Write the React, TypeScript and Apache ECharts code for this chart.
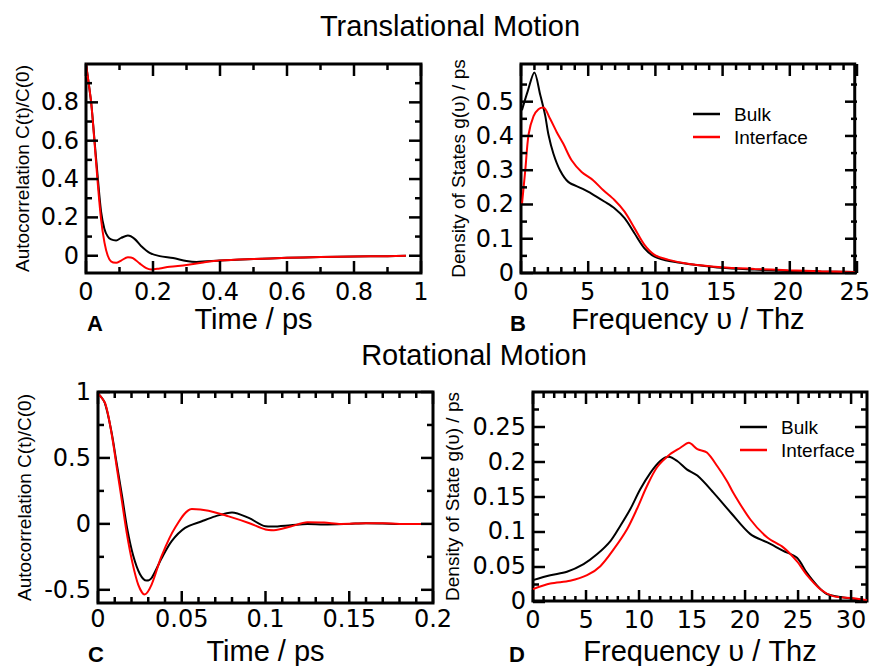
import React, { useEffect, useRef } from 'react';
import * as echarts from 'echarts';

// ---------- Panel A: translational autocorrelation ----------
const aBulkTime = [0, 0.008, 0.016, 0.025, 0.035, 0.045, 0.055, 0.065, 0.075, 0.09, 0.105, 0.125, 0.145, 0.165, 0.19, 0.22, 0.26, 0.3, 0.33, 0.4, 0.5, 0.6, 0.7, 0.8, 0.9, 0.955];
const aBulkCorr = [1.0, 0.9, 0.79, 0.61, 0.41, 0.23, 0.14, 0.1, 0.085, 0.08, 0.093, 0.105, 0.088, 0.05, 0.015, -0.002, -0.012, -0.027, -0.032, -0.025, -0.017, -0.011, -0.007, -0.004, -0.002, 0.0];
const aIntTime = [0, 0.008, 0.016, 0.025, 0.035, 0.045, 0.055, 0.065, 0.075, 0.09, 0.105, 0.125, 0.14, 0.16, 0.18, 0.195, 0.22, 0.25, 0.3, 0.35, 0.4, 0.5, 0.6, 0.7, 0.8, 0.9, 0.955];
const aIntCorr = [1.0, 0.9, 0.79, 0.6, 0.38, 0.19, 0.07, 0.0, -0.03, -0.037, -0.025, -0.008, -0.012, -0.04, -0.065, -0.072, -0.066, -0.058, -0.048, -0.035, -0.025, -0.017, -0.011, -0.007, -0.004, -0.002, 0.0];
const aXMajor = [0, 0.2, 0.4, 0.6, 0.8, 1];
const aXMinor = [0.1, 0.3, 0.5, 0.7, 0.9];
const aYMajor = [0, 0.2, 0.4, 0.6, 0.8];
const aYMinor = [0.1, 0.3, 0.5, 0.7, 0.9];

// ---------- Panel B: translational density of states ----------
const bBulkFreq = [0.07, 0.5, 1.0, 1.44, 1.81, 2.05, 2.43, 2.92, 3.54, 4.54, 5.28, 6.27, 7.0, 7.76, 8.5, 9.25, 10.0, 11.2, 13.0, 15, 17.5, 20, 22.5, 25];
const bBulkDos = [0.475, 0.53, 0.585, 0.52, 0.46, 0.405, 0.348, 0.3, 0.266, 0.247, 0.232, 0.208, 0.189, 0.16, 0.116, 0.072, 0.048, 0.034, 0.024, 0.015, 0.01, 0.006, 0.004, 0.003];
const bIntFreq = [0.07, 0.32, 0.57, 0.94, 1.31, 1.68, 2.18, 2.68, 3.17, 3.79, 4.54, 5.4, 6.15, 7.0, 7.76, 8.5, 9.25, 10, 11, 12.5, 15, 17.5, 20, 22.5, 25];
const bIntDos = [0.2, 0.3, 0.405, 0.458, 0.478, 0.483, 0.45, 0.411, 0.377, 0.329, 0.295, 0.271, 0.242, 0.213, 0.179, 0.131, 0.082, 0.053, 0.039, 0.027, 0.017, 0.012, 0.008, 0.005, 0.003];
const bXMajor = [0, 5, 10, 15, 20, 25];
const bXMinor = [1, 2, 3, 4, 6, 7, 8, 9, 11, 12, 13, 14, 16, 17, 18, 19, 21, 22, 23, 24];
const bYMajor = [0, 0.1, 0.2, 0.3, 0.4, 0.5];
const bYMinor = [0.05, 0.15, 0.25, 0.35, 0.45, 0.55];

// ---------- Panel C: rotational autocorrelation ----------
const cBulkTime = [0, 0.004, 0.008, 0.011, 0.0145, 0.0175, 0.021, 0.025, 0.029, 0.032, 0.038, 0.044, 0.052, 0.062, 0.07, 0.08, 0.09, 0.1, 0.104, 0.115, 0.125, 0.135, 0.15, 0.16, 0.17, 0.18, 0.19, 0.2];
const cBulkCorr = [0.99, 0.92, 0.7, 0.47, 0.2, -0.04, -0.24, -0.38, -0.43, -0.41, -0.26, -0.13, -0.03, 0.02, 0.057, 0.087, 0.045, -0.018, -0.02, -0.01, 0.0, -0.005, 0.0, 0.005, 0.003, 0.0, 0.0, 0.0];
const cIntTime = [0, 0.0044, 0.0083, 0.0113, 0.0143, 0.0173, 0.0203, 0.024, 0.0278, 0.032, 0.038, 0.046, 0.056, 0.066, 0.078, 0.09, 0.1, 0.105, 0.115, 0.125, 0.135, 0.145, 0.16, 0.17, 0.18, 0.19, 0.2];
const cIntCorr = [0.99, 0.91, 0.67, 0.42, 0.17, -0.08, -0.28, -0.46, -0.535, -0.46, -0.243, -0.03, 0.112, 0.1, 0.057, 0.007, -0.043, -0.048, -0.02, 0.012, 0.01, 0.0, 0.005, 0.005, 0.0, 0.0, 0.0];
const cXMajor = [0, 0.05, 0.1, 0.15, 0.2];
const cXMinor = [0.01, 0.02, 0.03, 0.04, 0.06, 0.07, 0.08, 0.09, 0.11, 0.12, 0.13, 0.14, 0.16, 0.17, 0.18, 0.19];
const cYMajor = [-0.5, 0, 0.5, 1];
const cYMinor = [-0.25, 0.25, 0.75];

// ---------- Panel D: rotational density of states ----------
const dBulkFreq = [0, 1.63, 3.2, 4.77, 6.03, 7.3, 8.24, 9.18, 10.1, 11.07, 12.0, 12.8, 13.6, 14.5, 15.5, 17.0, 18.7, 20.5, 22.1, 23.6, 24.9, 25.8, 26.8, 27.7, 29.3, 31.2];
const dBulkDos = [0.03, 0.037, 0.042, 0.053, 0.067, 0.086, 0.108, 0.132, 0.16, 0.184, 0.201, 0.207, 0.201, 0.189, 0.18, 0.156, 0.126, 0.096, 0.084, 0.072, 0.062, 0.041, 0.022, 0.01, 0.005, 0.0015];
const dIntFreq = [0, 1.63, 3.5, 5.1, 6.35, 7.6, 8.87, 9.8, 10.75, 11.7, 12.95, 13.9, 14.7, 15.5, 16.4, 17.4, 18.3, 18.9, 20.5, 22.1, 23.6, 24.9, 25.8, 27.1, 28.3, 30.2, 31.5];
const dIntDos = [0.017, 0.025, 0.029, 0.037, 0.05, 0.074, 0.103, 0.132, 0.165, 0.192, 0.211, 0.22, 0.227, 0.218, 0.213, 0.193, 0.172, 0.155, 0.117, 0.091, 0.077, 0.057, 0.038, 0.017, 0.007, 0.004, 0.001];
const dXMajor = [0, 5, 10, 15, 20, 25, 30];
const dXMinor = [1, 2, 3, 4, 6, 7, 8, 9, 11, 12, 13, 14, 16, 17, 18, 19, 21, 22, 23, 24, 26, 27, 28, 29, 31];
const dYMajor = [0, 0.05, 0.1, 0.15, 0.2, 0.25];
const dYMinor = [0.025, 0.075, 0.125, 0.175, 0.225, 0.275];

const seriesNames = ['Bulk', 'Interface'];
const seriesColors = ['#000000', '#ff0000'];

const FONT = "'Liberation Sans', Arial, Helvetica, sans-serif";
const TICK_FONT = "'DejaVu Sans', 'Liberation Sans', sans-serif";

const zip = (xs: number[], ys: number[]) => xs.map((x, i) => [x, ys[i]]);

type Panel = {
  grid: { left: number; top: number; width: number; height: number };
  xRange: [number, number];
  yRange: [number, number];
  xMajor: number[];
  xMinor: number[];
  yMajor: number[];
  yMinor: number[];
  xName: string;
  yName: string;
  xNameGap: number;
  yNameGap: number;
  xLabelMargin: number;
  curves: number[][][];
};

const panels: Panel[] = [
  {
    grid: { left: 86, top: 64, width: 335, height: 209 },
    xRange: [0, 1], yRange: [-0.09, 1.0],
    xMajor: aXMajor, xMinor: aXMinor, yMajor: aYMajor, yMinor: aYMinor,
    xName: 'Time / ps', yName: 'Autocorrelation C(t)/C(0)', xNameGap: 27, yNameGap: 54, xLabelMargin: 7,
    curves: [zip(aBulkTime, aBulkCorr), zip(aIntTime, aIntCorr)],
  },
  {
    grid: { left: 521, top: 64, width: 336, height: 209 },
    xRange: [0, 25], yRange: [0, 0.61],
    xMajor: bXMajor, xMinor: bXMinor, yMajor: bYMajor, yMinor: bYMinor,
    xName: 'Frequency \u03C5 / Thz', yName: 'Density of States g(\u03C5) / ps', xNameGap: 27, yNameGap: 53, xLabelMargin: 7,
    curves: [zip(bBulkFreq, bBulkDos), zip(bIntFreq, bIntDos)],
  },
  {
    grid: { left: 98, top: 392, width: 335, height: 211 },
    xRange: [0, 0.2], yRange: [-0.6, 1.0],
    xMajor: cXMajor, xMinor: cXMinor, yMajor: cYMajor, yMinor: cYMinor,
    xName: 'Time / ps', yName: 'Autocorrelation C(t)/C(0)', xNameGap: 33, yNameGap: 64, xLabelMargin: 4,
    curves: [zip(cBulkTime, cBulkCorr), zip(cIntTime, cIntCorr)],
  },
  {
    grid: { left: 533, top: 392, width: 334, height: 210 },
    xRange: [0, 31.5], yRange: [0, 0.3],
    xMajor: dXMajor, xMinor: dXMinor, yMajor: dYMajor, yMinor: dYMinor,
    xName: 'Frequency \u03C5 / Thz', yName: 'Density of State g(\u03C5) / ps', xNameGap: 35, yNameGap: 71, xLabelMargin: 7,
    curves: [zip(dBulkFreq, dBulkDos), zip(dIntFreq, dIntDos)],
  },
];

const panelLetters = [
  { text: 'A', x: 95, y: 323 },
  { text: 'B', x: 518, y: 323 },
  { text: 'C', x: 96, y: 654 },
  { text: 'D', x: 517, y: 654 },
];

const titles = [
  { text: 'Translational Motion', x: 450, y: 26 },
  { text: 'Rotational Motion', x: 474, y: 355 },
];

const MAJOR_LEN = 12; // tick length in pixels
const MINOR_LEN = 6;
const TICK_W = 2.5;

// inward tick marks on all four sides, as short polylines placed on the grid's linear axis mapping
function tickMarks(p: Panel) {
  const { left, top, width, height } = p.grid;
  const [x0, x1] = p.xRange;
  const [y0, y1] = p.yRange;
  const toPx = (v: number) => left + ((v - x0) / (x1 - x0)) * width;
  const toPy = (v: number) => top + height - ((v - y0) / (y1 - y0)) * height;
  const out: any[] = [];
  const style = { stroke: '#000000', lineWidth: TICK_W, fill: null };
  const seg = (ax: number, ay: number, bx: number, by: number) =>
    out.push({ type: 'polyline', z: 50, shape: { points: [[ax, ay], [bx, by]] }, style });
  const addX = (vals: number[], len: number) =>
    vals.forEach((v) => {
      const px = toPx(v);
      seg(px, top + height, px, top + height - len);
      seg(px, top, px, top + len);
    });
  const addY = (vals: number[], len: number) =>
    vals.forEach((v) => {
      const py = toPy(v);
      seg(left, py, left + len, py);
      seg(left + width, py, left + width - len, py);
    });
  addX(p.xMajor, MAJOR_LEN);
  addX(p.xMinor, MINOR_LEN);
  addY(p.yMajor, MAJOR_LEN);
  addY(p.yMinor, MINOR_LEN);
  return out;
}

export default function App() {
  const ref = useRef<HTMLDivElement>(null);

  useEffect(() => {
    document.body.style.margin = '0';
    document.body.style.overflow = 'hidden';
    if (!ref.current) return;
    const chart = echarts.init(ref.current, null, { renderer: 'svg' });

    const xAxis: any[] = [];
    const yAxis: any[] = [];
    const series: any[] = [];
    panels.forEach((p, i) => {
      xAxis.push({
        type: 'value',
        gridIndex: i,
        position: 'bottom',
        min: p.xRange[0],
        max: p.xRange[1],
        axisLine: { show: false, onZero: false },
        axisTick: { show: false },
        splitLine: { show: false },
        axisLabel: {
          customValues: p.xMajor,
          margin: p.xLabelMargin,
          color: '#000',
          fontFamily: TICK_FONT,
          fontSize: 24,
        },
        name: p.xName,
        nameLocation: 'middle',
        nameGap: p.xNameGap,
        nameTextStyle: { fontFamily: FONT, fontSize: 29, color: '#000' },
      });
      yAxis.push({
        type: 'value',
        gridIndex: i,
        position: 'left',
        min: p.yRange[0],
        max: p.yRange[1],
        axisLine: { show: false, onZero: false },
        axisTick: { show: false },
        splitLine: { show: false },
        axisLabel: {
          customValues: p.yMajor,
          margin: 7,
          color: '#000',
          fontFamily: TICK_FONT,
          fontSize: 24,
        },
        name: p.yName,
        nameLocation: 'middle',
        nameRotate: 90,
        nameGap: p.yNameGap,
        nameTextStyle: { fontFamily: FONT, fontSize: 19, color: '#000' },
      });
      p.curves.forEach((data, s) => {
        series.push({
          type: 'line',
          name: seriesNames[s],
          xAxisIndex: i,
          yAxisIndex: i,
          data,
          showSymbol: false,
          symbol: 'none',
          smooth: 0.3,
          color: seriesColors[s],
          lineStyle: { color: seriesColors[s], width: 2 },
          z: 3 + s,
        });
      });
    });

    const legendBase = {
      data: seriesNames,
      orient: 'vertical',
      icon: 'rect',
      itemWidth: 27,
      itemHeight: 2.5,
      itemGap: 3,
      padding: 0,
      selectedMode: false,
      textStyle: { fontFamily: FONT, fontSize: 19, color: '#000', lineHeight: 20, padding: [0, 0, 0, 9] },
    };

    const graphic: any[] = [
      ...titles.map((t) => ({
        type: 'text',
        x: t.x,
        y: t.y,
        style: {
          text: t.text,
          fontFamily: FONT,
          fontSize: 29,
          fill: '#000',
          align: 'center',
          verticalAlign: 'middle',
          textAlign: 'center',
          textVerticalAlign: 'middle',
        },
      })),
      ...panelLetters.map((t) => ({
        type: 'text',
        x: t.x,
        y: t.y,
        style: {
          text: t.text,
          fontFamily: FONT,
          fontSize: 22,
          fontWeight: 'bold',
          fill: '#000',
          align: 'center',
          verticalAlign: 'middle',
          textAlign: 'center',
          textVerticalAlign: 'middle',
        },
      })),
      ...panels.flatMap((p) => tickMarks(p)),
    ];

    chart.setOption({
      animation: false,
      backgroundColor: '#ffffff',
      grid: panels.map((p) => ({
        ...p.grid,
        containLabel: false,
        show: true,
        borderColor: '#000',
        borderWidth: 3,
        backgroundColor: 'transparent',
      })),
      xAxis,
      yAxis,
      series,
      legend: [
        { ...legendBase, left: 693, top: 104 },
        { ...legendBase, left: 740, top: 417 },
      ],
      graphic,
    });

    return () => chart.dispose();
  }, []);

  return <div ref={ref} style={{ width: 873, height: 666 }} />;
}
